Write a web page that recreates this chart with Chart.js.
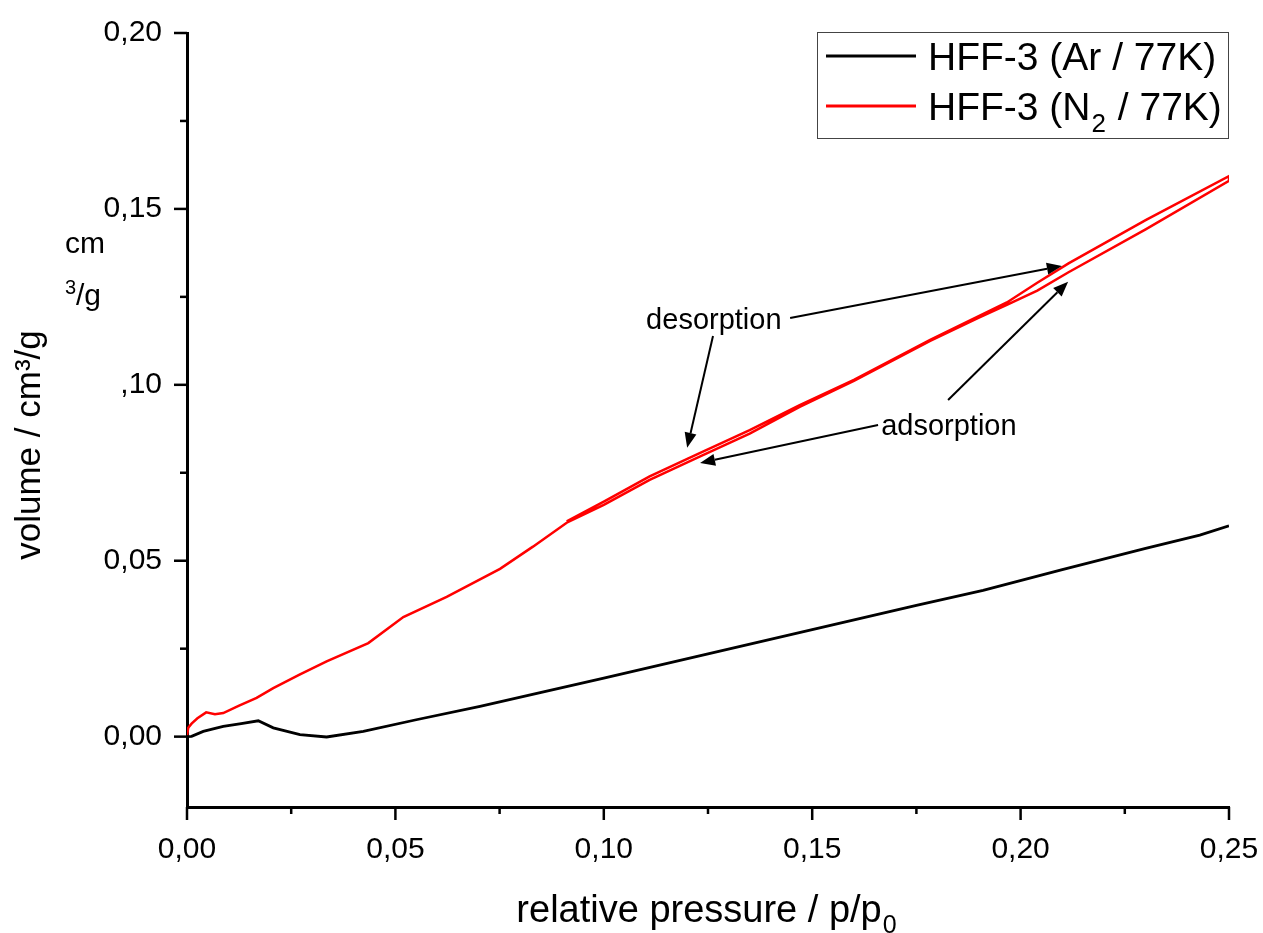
<!DOCTYPE html>
<html>
<head>
<meta charset="utf-8">
<script src="https://cdn.jsdelivr.net/npm/chart.js@4.4.1/dist/chart.umd.min.js"></script>
<style>
  html, body { margin: 0; padding: 0; background: #fff; }
</style>
</head>
<body>
<canvas id="myChart" width="1263" height="933"></canvas>
<script>
// Ar isotherm (77 K)
const arPressure = [0, 0.0011, 0.0039, 0.0087, 0.0130, 0.0171, 0.0207, 0.0271, 0.0335, 0.0423, 0.0550, 0.0703, 0.0850, 0.1000, 0.1250, 0.1500, 0.1750, 0.1910, 0.2100, 0.2300, 0.2430, 0.2500]
const arVolume   = [0, 0.0001, 0.0015, 0.0029, 0.0037, 0.0045, 0.0025, 0.0006, -0.0001, 0.0015, 0.0048, 0.0086, 0.0126, 0.0166, 0.0235, 0.0304, 0.0373, 0.0416, 0.0475, 0.0535, 0.0573, 0.0599]

// N2 isotherm (77 K), adsorption branch
const n2AdsPressure = [0, 0.0003, 0.0011, 0.0025, 0.0046, 0.0067, 0.0087, 0.0125, 0.0167, 0.0207, 0.0270, 0.0335, 0.0435, 0.0519, 0.0623, 0.0751, 0.0830, 0.0911, 0.1000, 0.1110, 0.1230, 0.1350, 0.1470, 0.1600, 0.1783, 0.1900, 0.1967, 0.2040, 0.2115, 0.2300, 0.2500]
const n2AdsVolume   = [0.0003, 0.0025, 0.0037, 0.0052, 0.0069, 0.0064, 0.0067, 0.0088, 0.0110, 0.0138, 0.0176, 0.0214, 0.0266, 0.0340, 0.0397, 0.0477, 0.0540, 0.0608, 0.0659, 0.0730, 0.0796, 0.0861, 0.0937, 0.1011, 0.1125, 0.1191, 0.1227, 0.1268, 0.1320, 0.1442, 0.1580]

// N2 desorption branch (measured from high to low pressure)
const n2DesPressure = [0.2500, 0.2300, 0.2115, 0.2040, 0.1967, 0.1783, 0.1600, 0.1470, 0.1350, 0.1230, 0.1110, 0.1000, 0.0911]
const n2DesVolume   = [0.1593, 0.1468, 0.1345, 0.1290, 0.1234, 0.1128, 0.1014, 0.0942, 0.0871, 0.0806, 0.0740, 0.0668, 0.0612]

// ticks
const xTickValues = [0, 0.05, 0.10, 0.15, 0.20, 0.25]
const xTickLabels = ['0,00', '0,05', '0,10', '0,15', '0,20', '0,25']
const xMinorTicks = [0.025, 0.075, 0.125, 0.175, 0.225]
const yTickValues = [0, 0.05, 0.10, 0.15, 0.20]
const yTickLabels = ['0,00', '0,05', ',10', '0,15', '0,20']
const yMinorTicks = [0.025, 0.075, 0.125, 0.175]

// annotations, in data units: [fromX, fromY, toX, toY]
const desorptionArrows = [[0.1447, 0.1190, 0.2099, 0.1338], [0.1262, 0.1139, 0.1200, 0.0821]]
const adsorptionArrows = [[0.1658, 0.0886, 0.1231, 0.0778], [0.1826, 0.0957, 0.2114, 0.1293]]
const desorptionLabelAt = [0.1264, 0.1182]
const adsorptionLabelAt = [0.1828, 0.0881]

const FONT = '"Liberation Sans", Arial, Helvetica, sans-serif'

function toPoints(xs, ys) {
  let pts = []
  for (let i = 0; i < xs.length; i++) pts.push({x: xs[i], y: ys[i]})
  return pts
}

function arrow(ctx, x1, y1, x2, y2) {
  const a = Math.atan2(y2 - y1, x2 - x1), len = 15, w = 6
  const bx = x2 - len * Math.cos(a), by = y2 - len * Math.sin(a)
  ctx.beginPath(); ctx.moveTo(x1, y1); ctx.lineTo(bx, by); ctx.stroke()
  ctx.beginPath(); ctx.moveTo(x2, y2)
  ctx.lineTo(bx + w * Math.sin(a), by - w * Math.cos(a))
  ctx.lineTo(bx - w * Math.sin(a), by + w * Math.cos(a))
  ctx.closePath(); ctx.fill()
}

const extras = {
  id: 'extras',
  afterDraw(chart) {
    const ctx = chart.ctx
    const xs = chart.scales.x, ys = chart.scales.y
    const area = chart.chartArea
    ctx.save()
    ctx.strokeStyle = '#000'
    ctx.fillStyle = '#000'

    // tick marks (major long, minor short)
    ctx.lineWidth = 2.5
    const tick = (x1, y1, x2, y2) => { ctx.beginPath(); ctx.moveTo(x1, y1); ctx.lineTo(x2, y2); ctx.stroke() }
    xTickValues.forEach(v => { const p = xs.getPixelForValue(v); tick(p, area.bottom, p, area.bottom + 13) })
    xMinorTicks.forEach(v => { const p = xs.getPixelForValue(v); tick(p, area.bottom, p, area.bottom + 7) })
    yTickValues.forEach(v => { const p = ys.getPixelForValue(v); tick(area.left, p, area.left - 13, p) })
    yMinorTicks.forEach(v => { const p = ys.getPixelForValue(v); tick(area.left, p, area.left - 7, p) })

    // x axis title with subscript
    ctx.textBaseline = 'alphabetic'
    ctx.textAlign = 'left'
    ctx.font = '38px ' + FONT
    const xMain = 'relative pressure / p/p'
    const wMain = ctx.measureText(xMain).width
    ctx.font = '25px ' + FONT
    const wSub = ctx.measureText('0').width
    let sx = (area.left + area.right) / 2 - 2 - (wMain + wSub) / 2
    ctx.font = '38px ' + FONT
    ctx.fillText(xMain, sx, 922)
    ctx.font = '25px ' + FONT
    ctx.fillText('0', sx + wMain + 1, 933)

    // y axis title
    ctx.save()
    ctx.translate(40, 445)
    ctx.rotate(-Math.PI / 2)
    ctx.textAlign = 'center'
    ctx.font = '35px ' + FONT
    ctx.fillText('volume / cm³/g', 0, 0)
    ctx.restore()

    // stray unit label left of the axis
    ctx.textAlign = 'left'
    ctx.font = '30px ' + FONT
    ctx.fillText('cm', 65, 253)
    ctx.font = '20px ' + FONT
    ctx.fillText('3', 65, 294)
    ctx.font = '30px ' + FONT
    ctx.fillText('/g', 76, 305)

    // annotations
    ctx.lineWidth = 2
    desorptionArrows.concat(adsorptionArrows).forEach(a => {
      arrow(ctx, xs.getPixelForValue(a[0]), ys.getPixelForValue(a[1]), xs.getPixelForValue(a[2]), ys.getPixelForValue(a[3]))
    })
    ctx.font = '29px ' + FONT
    ctx.textAlign = 'center'
    ctx.textBaseline = 'middle'
    ctx.fillText('desorption', xs.getPixelForValue(desorptionLabelAt[0]), ys.getPixelForValue(desorptionLabelAt[1]))
    ctx.fillText('adsorption', xs.getPixelForValue(adsorptionLabelAt[0]), ys.getPixelForValue(adsorptionLabelAt[1]))

    // legend
    ctx.fillStyle = '#fff'
    ctx.fillRect(817, 32, 411, 106)
    ctx.strokeStyle = '#444'
    ctx.lineWidth = 1
    ctx.strokeRect(817.5, 32.5, 411, 106)
    const ds = chart.data.datasets
    ctx.lineWidth = 3
    ctx.strokeStyle = ds[0].borderColor
    tick(826, 56, 916, 56)
    ctx.strokeStyle = ds[1].borderColor
    tick(826, 106, 916, 106)
    ctx.fillStyle = '#000'
    ctx.textAlign = 'left'
    ctx.textBaseline = 'alphabetic'
    ctx.font = '39px ' + FONT
    ctx.fillText('HFF-3 (Ar / 77K)', 928, 70)
    const part1 = 'HFF-3 (N'
    ctx.fillText(part1, 928, 120)
    let lx = 928 + ctx.measureText(part1).width
    ctx.font = '26px ' + FONT
    ctx.fillText('2', lx + 1, 132)
    lx += ctx.measureText('2').width + 2
    ctx.font = '39px ' + FONT
    ctx.fillText(' / 77K)', lx, 120)

    ctx.restore()
  }
}

const ctx = document.getElementById('myChart').getContext('2d')
const chart = new Chart(ctx, {
  type: 'scatter',
  data: {
    datasets: [{
      label: 'HFF-3 (Ar / 77K)',
      data: toPoints(arPressure, arVolume),
      showLine: true,
      borderColor: '#000000',
      borderWidth: 2.8,
      pointRadius: 0,
      tension: 0
    }, {
      label: 'HFF-3 (N2 / 77K)',
      data: toPoints(n2AdsPressure.concat(n2DesPressure), n2AdsVolume.concat(n2DesVolume)),
      showLine: true,
      borderColor: '#ff0000',
      borderWidth: 2.5,
      pointRadius: 0,
      tension: 0
    }]
  },
  options: {
    responsive: false,
    animation: false,
    layout: { padding: { top: 33, right: 34, bottom: 0, left: 0 } },
    plugins: { legend: { display: false }, tooltip: { enabled: false } },
    scales: {
      x: {
        type: 'linear', min: 0, max: 0.25,
        afterBuildTicks: s => { s.ticks = xTickValues.map(v => ({ value: v })) },
        afterFit: s => { s.height = 126; s.paddingLeft = 0; s.paddingRight = 0 },
        ticks: { autoSkip: false, maxRotation: 0, padding: 12, color: '#000', font: { family: FONT, size: 30 },
                 callback: (v, i) => xTickLabels[i] },
        grid: { display: true, drawOnChartArea: false, drawTicks: true, tickLength: 13, tickColor: 'rgba(0,0,0,0)' },
        border: { display: true, color: '#000', width: 3 }
      },
      y: {
        type: 'linear', min: -0.02, max: 0.20,
        afterBuildTicks: s => { s.ticks = yTickValues.map(v => ({ value: v })) },
        afterFit: s => { s.width = 187; s.paddingTop = 0; s.paddingBottom = 0 },
        ticks: { autoSkip: false, padding: 12, color: '#000', font: { family: FONT, size: 30 },
                 callback: (v, i) => yTickLabels[i] },
        grid: { display: true, drawOnChartArea: false, drawTicks: true, tickLength: 13, tickColor: 'rgba(0,0,0,0)' },
        border: { display: true, color: '#000', width: 3 }
      }
    }
  },
  plugins: [extras]
})
</script>
</body>
</html>
